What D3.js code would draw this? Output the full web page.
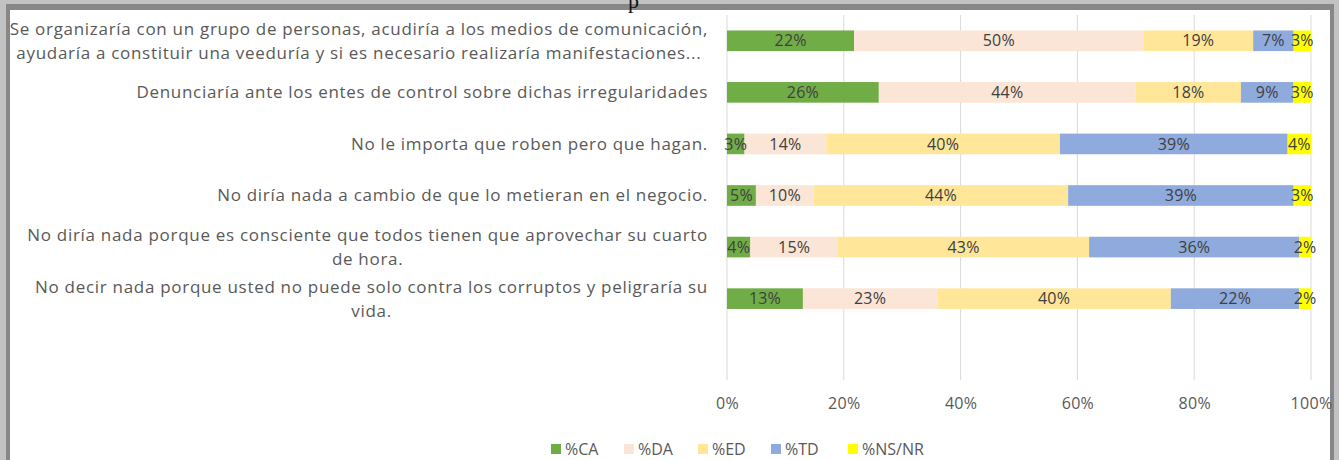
<!DOCTYPE html>
<html>
<head>
<meta charset="utf-8">
<script src="https://cdn.jsdelivr.net/npm/d3@7"></script>
<style>
  body { margin: 0; background: #fff; }
  svg { display: block; font-family: "Open Sans", sans-serif; }
</style>
</head>
<body>
<div id="root"></div>
<script>
// answers (each one may wrap on two lines in the chart)
const categories = [
  ['Se organizaría con un grupo de personas, acudiría a los medios de comunicación,', 'ayudaría a constituir una veeduría y si es necesario realizaría manifestaciones...'],
  ['Denunciaría ante los entes de control sobre dichas irregularidades'],
  ['No le importa que roben pero que hagan.'],
  ['No diría nada a cambio de que lo metieran en el negocio.'],
  ['No diría nada porque es consciente que todos tienen que aprovechar su cuarto', 'de hora.'],
  ['No decir nada porque usted no puede solo contra los corruptos y peligraría su', 'vida.'],
];

const seriesNames = ['%CA', '%DA', '%ED', '%TD', '%NS/NR'];
const seriesColors = ['#70ad47', '#fbe5d6', '#ffe699', '#8faadc', '#ffff00'];

// one array per series, same order as categories
const valuesCA = [22, 26, 3, 5, 4, 13];
const valuesDA = [50, 44, 14, 10, 15, 23];
const valuesED = [19, 18, 40, 44, 43, 40];
const valuesTD = [7, 9, 39, 39, 36, 22];
const valuesNS = [3, 3, 4, 3, 2, 2];

const tickValues = [0, 0.2, 0.4, 0.6, 0.8, 1];

const width = 1339;
const height = 460;

const rows = categories.map((lines, i) => ({
  key: i,
  lines,
  '%CA': valuesCA[i],
  '%DA': valuesDA[i],
  '%ED': valuesED[i],
  '%TD': valuesTD[i],
  '%NS/NR': valuesNS[i],
}));

const stacked = d3.stack().keys(seriesNames).offset(d3.stackOffsetExpand)(rows);

const svg = d3.select('#root').append('svg')
  .attr('width', width)
  .attr('height', height);

// the screenshot frame around the chart
svg.append('rect').attr('x', 0).attr('y', 0).attr('width', width).attr('height', height).attr('fill', '#c2c2c2');
svg.append('rect').attr('x', 6).attr('y', 4).attr('width', 1328).attr('height', height).attr('fill', '#878787');
svg.append('rect').attr('x', 10).attr('y', 10).attr('width', 1320).attr('height', height).attr('fill', '#fff');
svg.append('text')
  .attr('x', 628).attr('y', 8)
  .attr('font-family', '"Liberation Serif", serif')
  .attr('font-size', 22)
  .attr('fill', '#111')
  .text('p');

const xScale = d3.scaleLinear().domain([0, 1]).range([727, 1311]);

// Excel left an empty slot under the last bar
const yScale = d3.scaleBand()
  .domain([...rows.map(d => d.key), 'blank'])
  .range([15, 376])
  .paddingInner(0.6)
  .paddingOuter(0.3);

const color = d3.scaleOrdinal().domain(seriesNames).range(seriesColors);

// gridlines
svg.append('g')
  .selectAll('line')
  .data(tickValues)
  .join('line')
  .attr('x1', d => xScale(d))
  .attr('x2', d => xScale(d))
  .attr('y1', 15)
  .attr('y2', 380)
  .attr('stroke', '#d9d9d9')
  .attr('stroke-width', 1);

// axis labels
const xAxis = svg.append('g')
  .attr('transform', 'translate(0, 395)')
  .call(d3.axisBottom(xScale).tickValues(tickValues).tickFormat(d3.format('.0%')).tickSize(0));
xAxis.select('.domain').remove();
xAxis.selectAll('text')
  .attr('font-family', '"Open Sans", sans-serif')
  .attr('font-size', 16)
  .attr('letter-spacing', 0.3)
  .attr('fill', '#595959');

// bars
const layers = svg.append('g')
  .selectAll('g')
  .data(stacked)
  .join('g')
  .attr('fill', d => color(d.key));

layers.selectAll('rect')
  .data(d => d)
  .join('rect')
  .attr('x', d => xScale(d[0]))
  .attr('y', d => yScale(d.data.key))
  .attr('width', d => xScale(d[1]) - xScale(d[0]))
  .attr('height', yScale.bandwidth());

// value labels
const labels = svg.append('g')
  .selectAll('g')
  .data(stacked)
  .join('g');

labels.selectAll('text')
  .data(d => d.map(v => ({ v, key: d.key })))
  .join('text')
  .attr('x', d => (xScale(d.v[0]) + xScale(d.v[1])) / 2)
  .attr('y', d => yScale(d.v.data.key) + yScale.bandwidth() / 2)
  .attr('dy', '0.35em')
  .attr('text-anchor', 'middle')
  .attr('font-size', 16)
  .attr('letter-spacing', 0.2)
  .attr('fill', '#404040')
  .text(d => d.v.data[d.key] + '%');

// category labels, right aligned, multi-line blocks centred like Excel does
const labelRight = 708;
const catGroups = svg.append('g')
  .selectAll('g')
  .data(rows)
  .join('g')
  .attr('transform', d => `translate(0, ${yScale(d.key) + yScale.bandwidth() / 2})`);

catGroups.each(function(d) {
  const g = d3.select(this);
  const n = d.lines.length;
  const texts = g.selectAll('text')
    .data(d.lines)
    .join('text')
    .attr('y', (l, i) => (i - (n - 1) / 2) * 24)
    .attr('dy', '0.35em')
    .attr('font-size', 17)
    .attr('letter-spacing', 0.7)
    .attr('fill', '#595959')
    .text(l => l);
  const widest = d3.max(texts.nodes(), t => t.getComputedTextLength());
  texts
    .attr('text-anchor', 'middle')
    .attr('x', labelRight - widest / 2);
});

// legend
const legend = svg.append('g')
  .attr('transform', 'translate(551, 449)')
  .selectAll('g')
  .data(seriesNames)
  .join('g')
  .attr('transform', (d, i) => `translate(${[0, 73, 147, 220, 297][i]}, 0)`);

legend.append('rect')
  .attr('x', 0)
  .attr('y', -5)
  .attr('width', 10)
  .attr('height', 10)
  .attr('fill', d => color(d));

legend.append('text')
  .attr('x', 14)
  .attr('dy', '0.35em')
  .attr('font-size', 16)
  .attr('fill', '#595959')
  .text(d => d);
</script>
</body>
</html>
